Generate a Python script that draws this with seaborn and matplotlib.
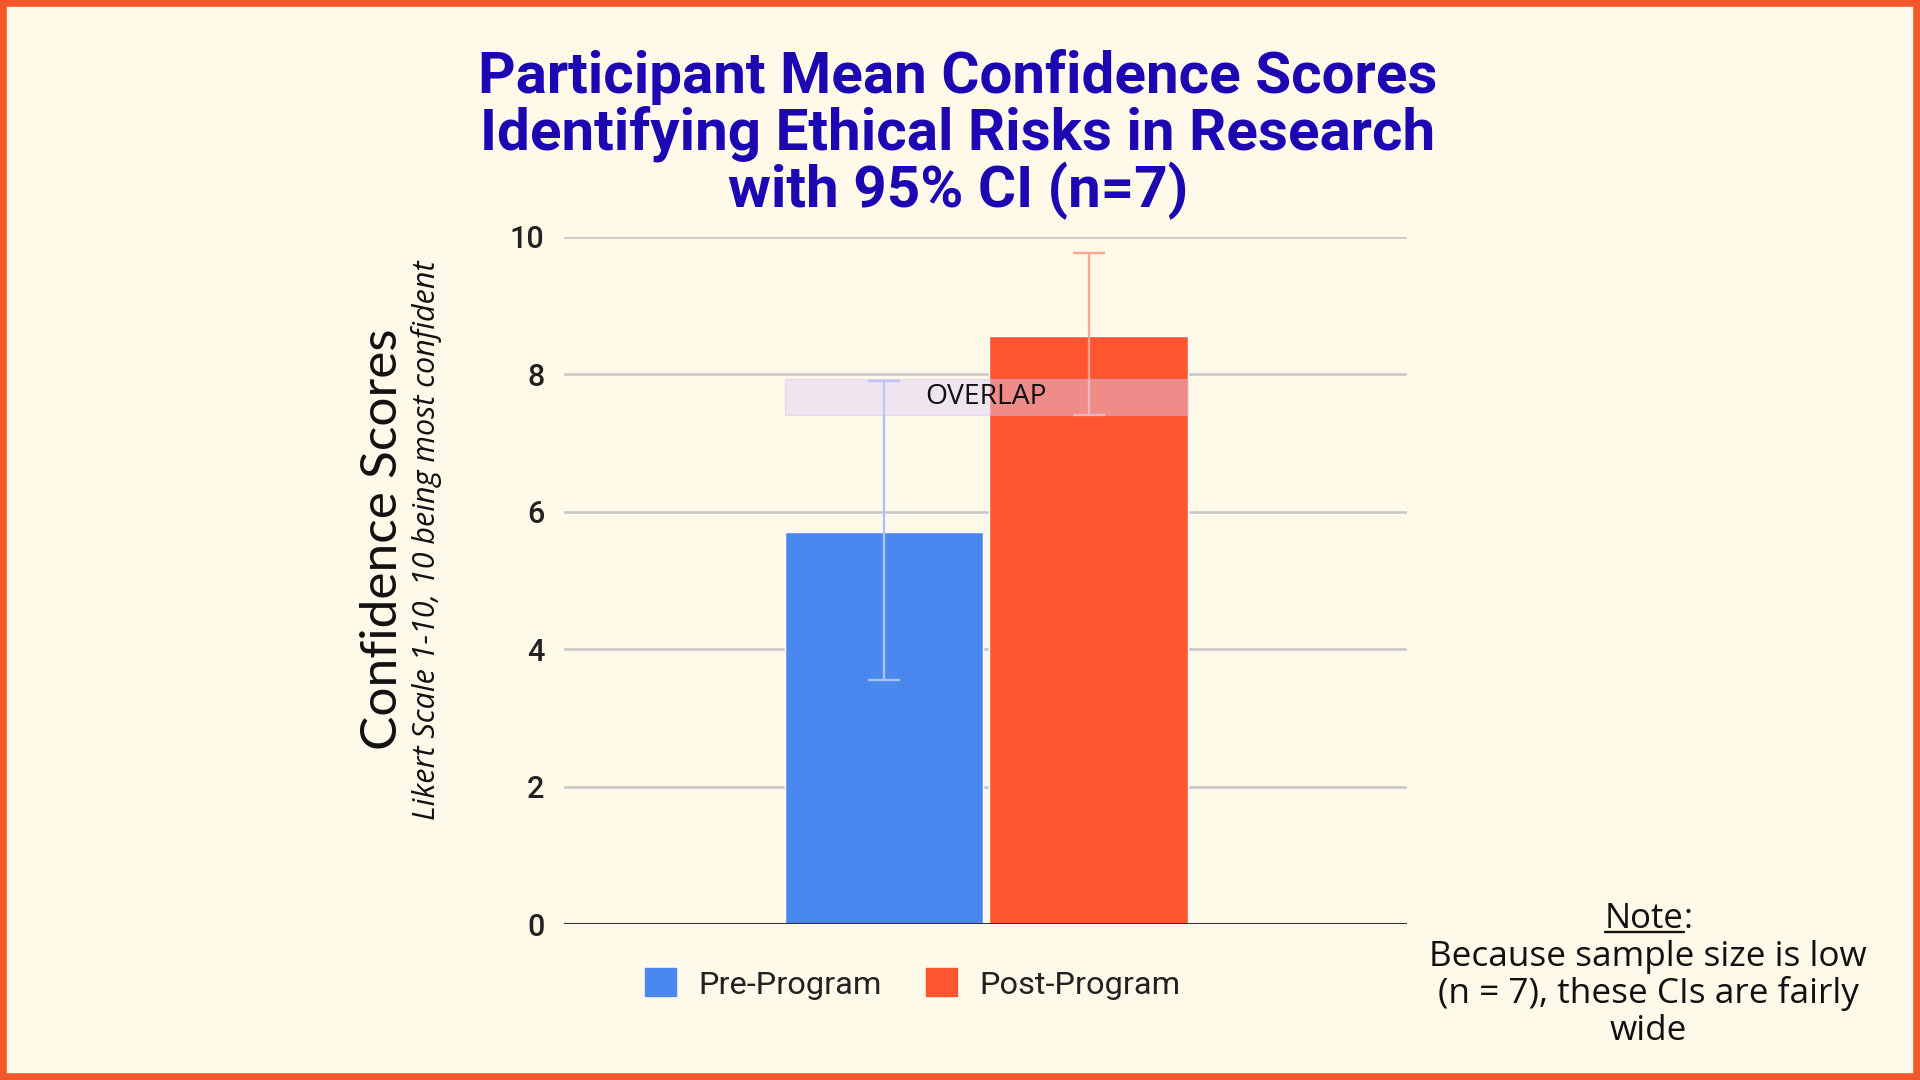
import matplotlib
matplotlib.use("Agg")
import matplotlib.pyplot as plt
import matplotlib.patches as mpatches
from matplotlib import font_manager
import pandas as pd
import seaborn as sns

# Chart values
phases = ["Pre-Program", "Post-Program"]
mean_scores = [5.70, 8.56]
ci_low = [3.55, 7.41]
ci_high = [7.91, 9.76]
overlap_range = (7.41, 7.93)
y_ticks = [0, 2, 4, 6, 8, 10]

title_text = ("Participant Mean Confidence Scores\n"
              "Identifying Ethical Risks in Research\n"
              "with 95% CI (n=7)")
ylabel_text = "Confidence Scores"
ysub_text = "Likert Scale 1-10, 10 being most confident"
note_body = "Because sample size is low\n(n = 7), these CIs are fairly\nwide"

BG = "#fff9ea"
BORDER = "#f5572b"
BAR_COLORS = ["#4a87ee", "#ff5630"]
ERR_COLORS = ["#a9c2f8", "#ffa58f"]
TITLE_COLOR = "#1c07b2"

installed = {f.name for f in font_manager.fontManager.ttflist}
title_font = "Liberation Sans Narrow" if "Liberation Sans Narrow" in installed else "Roboto"

sns.set_style("white")
plt.rcParams["font.family"] = ["Roboto", "DejaVu Sans"]

df = pd.DataFrame({"phase": phases, "score": mean_scores})

fig = plt.figure(figsize=(19.2, 10.8), dpi=100, facecolor=BG)
ax = fig.add_axes([564 / 1920, 1 - 924 / 1080, (1407 - 564) / 1920, (924 - 237) / 1080])
ax.set_facecolor(BG)

# outer frame
fig.patches.append(mpatches.Rectangle((0.0018, 0.003), 0.9964, 0.994, transform=fig.transFigure,
                                      fill=False, edgecolor=BORDER, linewidth=5.5, zorder=10))

# gridlines
for t in y_ticks[1:]:
    ax.axhline(t, color="#c6c6c6", linewidth=1.8, zorder=0)

sns.barplot(data=df, x="phase", y="score", hue="phase", palette=BAR_COLORS,
            width=0.972, errorbar=None, legend=False, saturation=1, ax=ax, zorder=2)

for i in range(len(phases)):
    ax.errorbar(i, mean_scores[i],
                yerr=[[mean_scores[i] - ci_low[i]], [ci_high[i] - mean_scores[i]]],
                fmt="none", ecolor=ERR_COLORS[i], elinewidth=1.7, capsize=11.5,
                capthick=1.7, zorder=3)

ax.axhline(0, color="#333333", linewidth=2.2, zorder=4)

# overlap band across both bars
ax.fill_between([-0.486, 1.486], overlap_range[0], overlap_range[1],
                facecolor="#ddcdf6", alpha=0.45, edgecolor="#cdbdf0", linewidth=0.8, zorder=5)
ax.text(0.5, sum(overlap_range) / 2, "OVERLAP", ha="center", va="center",
        fontsize=20.3, family=["Open Sans", "DejaVu Sans"], color="#111111", zorder=6)

ax.set_xlim(-1.565, 2.557)
ax.set_ylim(0, 10)
ax.set_yticks(y_ticks)
ax.set_yticklabels([str(t) for t in y_ticks], fontsize=22, fontweight="medium", color="#222222")
ax.tick_params(axis="y", length=0, pad=14)
ax.set_xticks([])
ax.set_xlabel("")
ax.set_ylabel("")
for s in ax.spines.values():
    s.set_visible(False)

# titles
fig.text(958 / 1920, 1 - 49 / 1080, title_text, ha="center", va="top", fontsize=42,
         fontweight="bold", color=TITLE_COLOR, family=[title_font, "DejaVu Sans"],
         linespacing=1.0)

fig.text(383 / 1920, 1 - 539 / 1080, ylabel_text, rotation=90, ha="center", va="center",
         fontsize=37, color="#111111", family=["Lato", "DejaVu Sans"])
fig.text(426 / 1920, 1 - 540 / 1080, ysub_text, rotation=90, ha="center", va="center",
         fontsize=22, style="italic", color="#111111", family=["Open Sans", "DejaVu Sans"])

# legend
handles = [mpatches.Patch(facecolor=c, edgecolor=c, label=p) for p, c in zip(phases, BAR_COLORS)]
fig.legend(handles=handles, loc="center", bbox_to_anchor=(913 / 1920, 1 - 984 / 1080),
           ncol=2, frameon=False, fontsize=23.4, handlelength=0.95, handleheight=0.95,
           handletextpad=0.7, columnspacing=1.35, labelcolor="#222222")

# note with underlined heading
note_x = 1648 / 1920
head_x = 1684 / 1920
note_font = ["Open Sans", "DejaVu Sans"]
t_note = fig.text(head_x, 1 - 928 / 1080, "Note", ha="right", va="baseline",
                  fontsize=25, color="#111111", family=note_font)
fig.text(head_x, 1 - 928 / 1080, ":", ha="left", va="baseline",
         fontsize=25, color="#111111", family=note_font)
fig.text(note_x, 1 - 940 / 1080, note_body, ha="center", va="top", fontsize=25.3,
         color="#111111", family=note_font, linespacing=1.09)

fig.canvas.draw()
bb = t_note.get_window_extent().transformed(fig.transFigure.inverted())
fig.add_artist(plt.Line2D([bb.x0, bb.x1], [bb.y0 + 0.004, bb.y0 + 0.004],
                          transform=fig.transFigure, color="#111111", linewidth=1.7))

fig.savefig("out.png", dpi=100, facecolor=BG)
plt.close(fig)
